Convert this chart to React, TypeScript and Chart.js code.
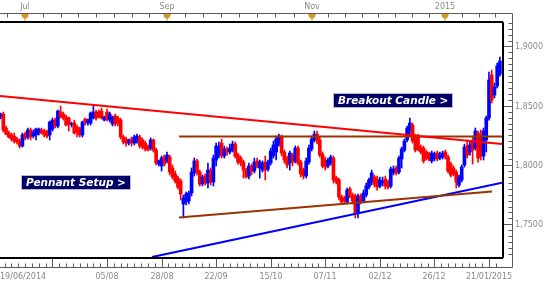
import React, { useEffect, useRef } from 'react';
import { Chart, registerables } from 'chart.js';

Chart.register(...registerables);

// ---- Daily candles (price) ----
const opens = [
  1.8405, 1.8430, 1.8312, 1.8270, 1.8253, 1.8244, 1.8219, 1.8202, 1.8160, 1.8261,
  1.8236, 1.8295, 1.8244, 1.8253, 1.8270, 1.8295, 1.8287, 1.8278, 1.8253, 1.8303,
  1.8379, 1.8329, 1.8447, 1.8430, 1.8405, 1.8396, 1.8341, 1.8354, 1.8320, 1.8303,
  1.8253, 1.8388, 1.8354, 1.8354, 1.8396, 1.8447, 1.8447, 1.8455, 1.8379, 1.8447,
  1.8379, 1.8346, 1.8413, 1.8396, 1.8379, 1.8236, 1.8219, 1.8185, 1.8219, 1.8185,
  1.8202, 1.8236, 1.8211, 1.8185, 1.8152, 1.8143, 1.8211, 1.8126, 1.8008, 1.7992,
  1.8067, 1.8034, 1.8067, 1.7975, 1.7924, 1.7890, 1.7865, 1.7671, 1.7688, 1.7697,
  1.7764, 1.7933, 1.8034, 1.7941, 1.7840, 1.7907, 1.7848, 1.7949, 1.7857, 1.8042,
  1.8084, 1.8185, 1.8076, 1.8135, 1.8110, 1.8126, 1.8177, 1.8084, 1.8059, 1.8025,
  1.7958, 1.7907, 1.7992, 1.7949, 1.8034, 1.7975, 1.7958, 1.8025, 1.7966, 1.8017,
  1.8076, 1.8110, 1.8177, 1.8236, 1.8110, 1.8059, 1.8017, 1.8084, 1.8034, 1.8143,
  1.8025, 1.7958, 1.7907, 1.8025, 1.8135, 1.8211, 1.8261, 1.8211, 1.8093, 1.8042,
  1.7992, 1.8017, 1.8059, 1.7890, 1.7874, 1.7730, 1.7722, 1.7688, 1.7798, 1.7747,
  1.7739, 1.7595, 1.7739, 1.7697, 1.7747, 1.7815, 1.7857, 1.7899, 1.7882, 1.7823,
  1.7848, 1.7882, 1.7857, 1.7823, 1.7933, 1.7975, 1.7941, 1.8051, 1.8126, 1.8211,
  1.8295, 1.8337, 1.8244, 1.8236, 1.8152, 1.8143, 1.8110, 1.8093, 1.8034, 1.8051,
  1.8101, 1.8059, 1.8067, 1.8110, 1.8067, 1.8008, 1.7975, 1.7941, 1.7831, 1.7874,
  1.8000, 1.8160, 1.8110, 1.8194, 1.8143, 1.8270, 1.8236, 1.8076, 1.8211, 1.8396,
  1.8759, 1.8590, 1.8666, 1.8767,
];
const highs = [
  1.8438, 1.8447, 1.8329, 1.8287, 1.8270, 1.8270, 1.8236, 1.8219, 1.8270, 1.8278,
  1.8312, 1.8312, 1.8295, 1.8312, 1.8312, 1.8312, 1.8303, 1.8295, 1.8371, 1.8396,
  1.8396, 1.8464, 1.8497, 1.8447, 1.8422, 1.8405, 1.8362, 1.8379, 1.8337, 1.8320,
  1.8371, 1.8396, 1.8388, 1.8447, 1.8497, 1.8464, 1.8464, 1.8481, 1.8413, 1.8472,
  1.8447, 1.8413, 1.8430, 1.8413, 1.8396, 1.8253, 1.8236, 1.8219, 1.8236, 1.8253,
  1.8261, 1.8253, 1.8228, 1.8202, 1.8169, 1.8228, 1.8219, 1.8143, 1.8042, 1.8076,
  1.8084, 1.8110, 1.8084, 1.8000, 1.7949, 1.7907, 1.7882, 1.7747, 1.7772, 1.7781,
  1.7975, 1.8059, 1.8051, 1.7958, 1.7916, 1.7924, 1.8017, 1.7975, 1.8084, 1.8185,
  1.8194, 1.8219, 1.8160, 1.8152, 1.8177, 1.8202, 1.8194, 1.8101, 1.8076, 1.8042,
  1.7975, 1.8017, 1.8008, 1.8059, 1.8059, 1.8042, 1.8034, 1.8076, 1.8042, 1.8143,
  1.8202, 1.8244, 1.8261, 1.8253, 1.8126, 1.8076, 1.8118, 1.8101, 1.8160, 1.8160,
  1.8042, 1.7975, 1.8059, 1.8169, 1.8244, 1.8287, 1.8287, 1.8236, 1.8110, 1.8067,
  1.8059, 1.8084, 1.8076, 1.7907, 1.7890, 1.7747, 1.7739, 1.7806, 1.7815, 1.7764,
  1.7756, 1.7756, 1.7756, 1.7789, 1.7848, 1.7890, 1.7958, 1.7916, 1.7907, 1.7899,
  1.7899, 1.7907, 1.7874, 1.7983, 1.7992, 1.7992, 1.8076, 1.8152, 1.8219, 1.8329,
  1.8396, 1.8354, 1.8261, 1.8261, 1.8169, 1.8160, 1.8126, 1.8110, 1.8118, 1.8110,
  1.8118, 1.8110, 1.8118, 1.8126, 1.8084, 1.8025, 1.7992, 1.7958, 1.7916, 1.8000,
  1.8177, 1.8211, 1.8194, 1.8244, 1.8312, 1.8287, 1.8295, 1.8312, 1.8413, 1.8784,
  1.8801, 1.8691, 1.8860, 1.8910,
];
const lows = [
  1.8388, 1.8278, 1.8253, 1.8228, 1.8202, 1.8185, 1.8177, 1.8143, 1.8152, 1.8211,
  1.8219, 1.8211, 1.8228, 1.8211, 1.8253, 1.8261, 1.8236, 1.8228, 1.8211, 1.8287,
  1.8312, 1.8312, 1.8396, 1.8379, 1.8329, 1.8287, 1.8320, 1.8261, 1.8236, 1.8236,
  1.8236, 1.8337, 1.8337, 1.8337, 1.8388, 1.8379, 1.8396, 1.8388, 1.8371, 1.8371,
  1.8362, 1.8329, 1.8329, 1.8329, 1.8219, 1.8177, 1.8160, 1.8169, 1.8160, 1.8169,
  1.8185, 1.8143, 1.8135, 1.8118, 1.8118, 1.8126, 1.8110, 1.8000, 1.7992, 1.7949,
  1.7992, 1.8017, 1.7916, 1.7882, 1.7848, 1.7798, 1.7705, 1.7553, 1.7663, 1.7671,
  1.7739, 1.7907, 1.7916, 1.7823, 1.7823, 1.7831, 1.7806, 1.7831, 1.7823, 1.7992,
  1.8059, 1.8059, 1.8059, 1.8084, 1.8093, 1.8110, 1.8059, 1.8008, 1.7992, 1.7890,
  1.7890, 1.7882, 1.7916, 1.7933, 1.7975, 1.7890, 1.7941, 1.7874, 1.7949, 1.8000,
  1.8059, 1.8042, 1.8160, 1.8076, 1.8017, 1.7975, 1.7958, 1.7992, 1.8017, 1.8000,
  1.7899, 1.7882, 1.7890, 1.8008, 1.8118, 1.8194, 1.8177, 1.8067, 1.7975, 1.7958,
  1.7975, 1.8000, 1.7848, 1.7840, 1.7705, 1.7671, 1.7671, 1.7671, 1.7722, 1.7671,
  1.7553, 1.7553, 1.7671, 1.7680, 1.7730, 1.7798, 1.7831, 1.7815, 1.7789, 1.7806,
  1.7823, 1.7798, 1.7798, 1.7806, 1.7916, 1.7916, 1.7924, 1.7975, 1.8110, 1.8194,
  1.8244, 1.8185, 1.8110, 1.8118, 1.8093, 1.8017, 1.8042, 1.8034, 1.8017, 1.8034,
  1.8034, 1.8042, 1.8051, 1.8051, 1.7933, 1.7899, 1.7907, 1.7806, 1.7815, 1.7857,
  1.7983, 1.8059, 1.8084, 1.8008, 1.8126, 1.8025, 1.8042, 1.8042, 1.8110, 1.8379,
  1.8523, 1.8565, 1.8649, 1.8750,
];
const closes = [
  1.8430, 1.8295, 1.8261, 1.8236, 1.8219, 1.8202, 1.8194, 1.8160, 1.8253, 1.8228,
  1.8295, 1.8236, 1.8278, 1.8303, 1.8303, 1.8270, 1.8253, 1.8244, 1.8362, 1.8379,
  1.8329, 1.8455, 1.8405, 1.8396, 1.8337, 1.8346, 1.8350, 1.8270, 1.8278, 1.8253,
  1.8362, 1.8362, 1.8379, 1.8438, 1.8447, 1.8396, 1.8405, 1.8396, 1.8405, 1.8388,
  1.8430, 1.8405, 1.8346, 1.8354, 1.8236, 1.8194, 1.8185, 1.8211, 1.8185, 1.8236,
  1.8244, 1.8160, 1.8152, 1.8135, 1.8126, 1.8211, 1.8126, 1.8017, 1.8034, 1.8059,
  1.8008, 1.8084, 1.7941, 1.7899, 1.7865, 1.7815, 1.7756, 1.7722, 1.7756, 1.7764,
  1.7941, 1.8034, 1.7941, 1.7840, 1.7899, 1.7848, 1.7958, 1.7857, 1.8059, 1.8160,
  1.8160, 1.8076, 1.8135, 1.8110, 1.8143, 1.8177, 1.8076, 1.8025, 1.8017, 1.7958,
  1.7899, 1.7992, 1.7949, 1.8025, 1.7992, 1.8025, 1.8017, 1.7958, 1.8025, 1.8118,
  1.8169, 1.8219, 1.8244, 1.8101, 1.8042, 1.8000, 1.8101, 1.8025, 1.8143, 1.8017,
  1.7924, 1.7907, 1.8034, 1.8143, 1.8219, 1.8261, 1.8202, 1.8084, 1.7992, 1.7983,
  1.8042, 1.8067, 1.7874, 1.7857, 1.7730, 1.7688, 1.7697, 1.7789, 1.7739, 1.7697,
  1.7587, 1.7739, 1.7697, 1.7764, 1.7823, 1.7874, 1.7933, 1.7840, 1.7815, 1.7874,
  1.7865, 1.7823, 1.7815, 1.7966, 1.7966, 1.7933, 1.8059, 1.8135, 1.8202, 1.8312,
  1.8354, 1.8202, 1.8126, 1.8135, 1.8110, 1.8034, 1.8059, 1.8051, 1.8101, 1.8093,
  1.8051, 1.8084, 1.8101, 1.8067, 1.7949, 1.7916, 1.7924, 1.7857, 1.7899, 1.7983,
  1.8152, 1.8084, 1.8169, 1.8126, 1.8287, 1.8059, 1.8076, 1.8287, 1.8396, 1.8717,
  1.8548, 1.8658, 1.8835, 1.8877,
];

// ---- Axis ticks / labels ----
const firstDateLabel = '19/06/2014';
const dateTickIndex = [19, 39, 59, 79, 99, 119, 139, 159, 179];
const dateTickLabels = ['', '05/08', '28/08', '22/09', '15/10', '07/11', '02/12', '26/12', '21/01/2015'];
const monthIndex = [9, 61, 114, 163];
const monthLabels = ['Jul', 'Sep', 'Nov', '2015'];
const priceTicks = [1.75, 1.8, 1.85, 1.9];

// ---- Trend lines (bar index, price) ----
const downTrendX = [-0.213, 183.77];
const downTrendY = [1.8582, 1.8177];
const resistanceX = [65.4, 183.77];
const resistanceY = [1.824, 1.824];
const supportX = [65.4, 180.1];
const supportY = [1.7557, 1.7777];
const upTrendX = [55.5, 183.77];
const upTrendY = [1.7224, 1.7851];

// ---- Notes ----
const noteTexts = ['Pennant Setup >', 'Breakout Candle >'];
const noteX = [7.5, 121.8];
const noteY = [1.7852, 1.8548];

const X_MIN = -0.213;
const X_MAX = 183.77;
const Y_MIN = 1.7216;
const Y_MAX = 1.9206;

const UP = '#0000ff';
const DOWN = '#ff0000';

export default function App() {
  const ref = useRef<HTMLCanvasElement>(null);

  useEffect(() => {
    const canvas = ref.current;
    if (!canvas) return;
    const idx = opens.map((_, i) => i);
    const colors = idx.map((i) => (closes[i] >= opens[i] ? UP : DOWN));
    const bodyData = idx.map((i) => ({ x: i, y: [opens[i], closes[i]] }));
    const wickData = idx.map((i) => ({ x: i, y: [lows[i], highs[i]] }));
    const line = (xs: number[], ys: number[]) => xs.map((x, k) => ({ x, y: ys[k] }));

    const axisPlugin = {
      id: 'fxAxes',
      afterDatasetsDraw(chart: any) {
        const { ctx, chartArea: a } = chart;
        const xs = chart.scales.x;
        const ys = chart.scales.y;
        const px = (v: number) => xs.getPixelForValue(v);
        const py = (v: number) => ys.getPixelForValue(v);
        const snap = (v: number) => Math.round(v) + 0.5;
        ctx.save();

        // note boxes
        ctx.font = "italic bold 10.5px 'DejaVu Sans'";
        ctx.textBaseline = 'middle';
        ctx.textAlign = 'left';
        noteTexts.forEach((t, k) => {
          const w = Math.round(ctx.measureText(t).width + 10);
          const left = Math.round(px(noteX[k]));
          const top = Math.round(py(noteY[k]) - 7.5);
          ctx.fillStyle = '#000066';
          ctx.fillRect(left, top, w, 15);
          ctx.strokeStyle = '#b8b8cc';
          ctx.lineWidth = 1;
          ctx.strokeRect(left + 0.5, top + 0.5, w - 1, 14);
          ctx.fillStyle = '#ffffff';
          ctx.fillText(t, left + 5, top + 8);
        });

        // outer gray axis frame
        const oTop = 13.5;
        const oRight = 512.5;
        const oBottom = 267.5;
        ctx.strokeStyle = '#5a5a5a';
        ctx.lineWidth = 1;
        ctx.beginPath();
        ctx.moveTo(0, oTop);
        ctx.lineTo(oRight, oTop);
        ctx.lineTo(oRight, oBottom);
        ctx.lineTo(0, oBottom);
        ctx.stroke();

        // top ticks
        const topTicks: number[] = [];
        for (let j = 0; j < monthIndex.length - 1; j++) {
          const st = (monthIndex[j + 1] - monthIndex[j]) / 8;
          for (let s = 1; s < 8; s++) topTicks.push(monthIndex[j] + s * st);
        }
        const st0 = (monthIndex[1] - monthIndex[0]) / 8;
        for (let v = monthIndex[0] - st0; v >= X_MIN; v -= st0) topTicks.push(v);
        const stL = (monthIndex[3] - monthIndex[2]) / 8;
        for (let v = monthIndex[3] + stL; v <= X_MAX; v += stL) topTicks.push(v);
        ctx.beginPath();
        topTicks.forEach((v) => {
          const x = snap(px(v));
          ctx.moveTo(x, oTop);
          ctx.lineTo(x, oTop + 4);
        });
        ctx.stroke();

        // month markers
        ctx.fillStyle = '#d29a1e';
        monthIndex.forEach((m) => {
          const x = Math.round(px(m));
          ctx.beginPath();
          ctx.moveTo(x - 3.5, 14);
          ctx.lineTo(x + 3.5, 14);
          ctx.lineTo(x + 3.5, 16);
          ctx.lineTo(x + 1.5, 18.5);
          ctx.lineTo(x - 1.5, 18.5);
          ctx.lineTo(x - 3.5, 16);
          ctx.closePath();
          ctx.fill();
          ctx.fillRect(x - 0.5, 18, 1, 4);
        });

        // labels
        ctx.font = "8px 'DejaVu Sans'";
        ctx.fillStyle = '#8a8a8a';
        ctx.textBaseline = 'middle';
        ctx.textAlign = 'center';
        monthIndex.forEach((m, k) => ctx.fillText(monthLabels[k], Math.round(px(m)), 6.5));

        // bottom ticks
        ctx.strokeStyle = '#5a5a5a';
        ctx.beginPath();
        for (let k = -7; ; k++) {
          const v = dateTickIndex[0] + 2.5 * k;
          if (v > X_MAX) break;
          if (v < X_MIN) continue;
          const x = snap(px(v));
          const major = k % 8 === 0;
          ctx.moveTo(x, major ? a.bottom : oBottom - 4);
          ctx.lineTo(x, oBottom);
        }
        ctx.stroke();
        ctx.textAlign = 'left';
        ctx.fillText(firstDateLabel, 0, 277);
        ctx.textAlign = 'center';
        dateTickIndex.forEach((v, k) => {
          if (dateTickLabels[k]) ctx.fillText(dateTickLabels[k], Math.round(px(v)), 277);
        });

        // right ticks
        ctx.beginPath();
        for (let m = 1725; m <= 1920; m += 5) {
          const y = snap(py(m / 1000));
          const major = m % 50 === 0;
          ctx.moveTo(major ? a.right : oRight - 4, y);
          ctx.lineTo(oRight, y);
        }
        ctx.stroke();
        ctx.textAlign = 'left';
        priceTicks.forEach((p) => {
          ctx.fillText(p.toFixed(4).replace('.', ','), 515, Math.round(py(p)) + 0.5);
        });

        // plot frame
        ctx.strokeStyle = '#000000';
        ctx.lineWidth = 2;
        ctx.beginPath();
        ctx.moveTo(a.left, a.top);
        ctx.lineTo(a.right + 1, a.top);
        ctx.moveTo(a.right + 1, a.top);
        ctx.lineTo(a.right + 1, a.bottom);
        ctx.moveTo(a.right + 1, a.bottom);
        ctx.lineTo(a.left, a.bottom);
        ctx.stroke();

        ctx.restore();
      },
    };

    const chart = new Chart(canvas, {
      type: 'bar',
      data: {
        datasets: [
          { type: 'line', data: line(downTrendX, downTrendY), borderColor: '#ff0000', borderWidth: 2, pointRadius: 0, order: 0 } as any,
          { type: 'line', data: line(resistanceX, resistanceY), borderColor: '#993300', borderWidth: 2, pointRadius: 0, order: 0 } as any,
          { type: 'line', data: line(supportX, supportY), borderColor: '#993300', borderWidth: 2, pointRadius: 0, order: 0 } as any,
          { type: 'line', data: line(upTrendX, upTrendY), borderColor: '#0000ff', borderWidth: 2, pointRadius: 0, order: 0 } as any,
          { type: 'bar', data: bodyData, backgroundColor: colors, borderWidth: 0, barThickness: 3, minBarLength: 1, grouped: false, order: 1 } as any,
          { type: 'bar', data: wickData, backgroundColor: colors, borderWidth: 0, barThickness: 1, grouped: false, order: 2 } as any,
        ],
      },
      options: {
        responsive: false,
        animation: false,
        devicePixelRatio: 1,
        events: [],
        layout: { padding: { left: 0, top: 22, right: 52, bottom: 29 } },
        plugins: { legend: { display: false }, tooltip: { enabled: false } },
        scales: {
          x: { type: 'linear', display: false, min: X_MIN, max: X_MAX, offset: false },
          y: { type: 'linear', display: false, min: Y_MIN, max: Y_MAX },
        },
      } as any,
      plugins: [axisPlugin],
    });
    return () => chart.destroy();
  }, []);

  return (
    <div style={{ position: 'absolute', left: 0, top: 0, width: 554, height: 287 }}>
      <canvas ref={ref} width={554} height={287} style={{ display: 'block', width: 554, height: 287 }} />
    </div>
  );
}
